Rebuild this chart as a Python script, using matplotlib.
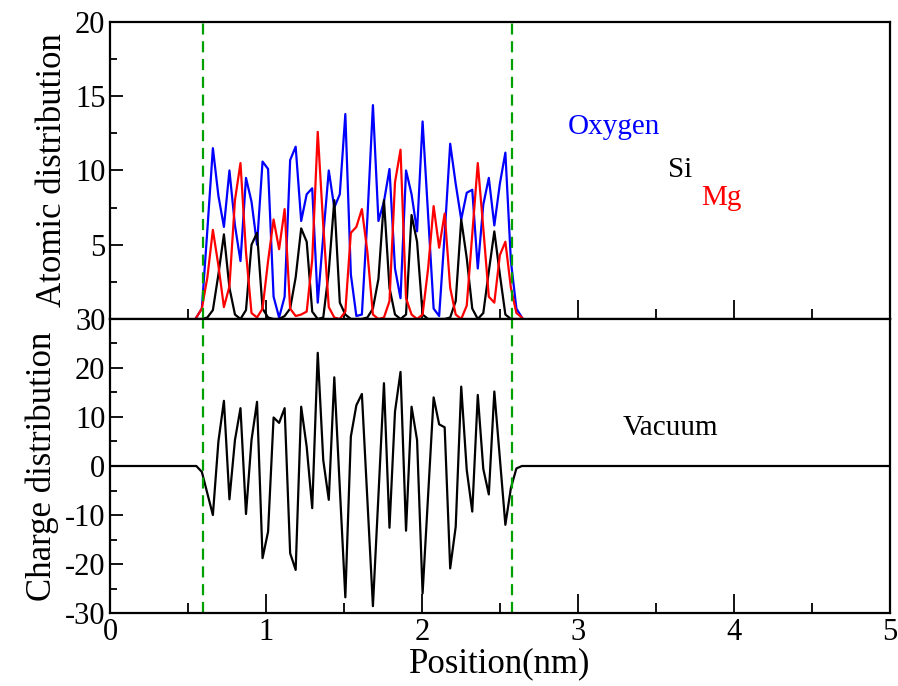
import numpy as np
import matplotlib
matplotlib.use("Agg")
import matplotlib.pyplot as plt
from matplotlib.ticker import MultipleLocator

# ==========================================
# DATA
# ==========================================

# sampling grid of the profiles (nm)
grid_start = 0.552
grid_step = 0.0354
n_points = 60

oxygen = [0.1, 0.7, 6.0, 11.5, 8.3, 6.2, 10.0, 6.3, 3.9, 9.5,
          7.9, 5.0, 10.6, 10.1, 1.5, 0.1, 1.5, 10.7, 11.6, 6.6,
          8.4, 8.8, 1.1, 5.6, 10.0, 7.5, 8.4, 13.8, 3.0, 0.2,
          0.3, 6.8, 14.4, 6.6, 7.9, 10.1, 3.4, 1.4, 10.0, 8.4,
          5.9, 13.3, 7.0, 0.7, 0.2, 5.7, 11.8, 9.1, 6.7, 8.5,
          8.7, 3.4, 7.7, 9.5, 6.3, 9.1, 11.2, 3.9, 0.7, 0.1]

magnesium = [0.1, 0.7, 2.8, 6.0, 3.6, 0.8, 2.2, 8.0, 10.5, 4.5,
             0.4, 0.1, 0.7, 3.9, 6.7, 4.7, 7.4, 0.7, 0.2, 0.3,
             0.5, 4.0, 12.6, 6.3, 0.8, 0.1, 0.0, 0.5, 5.8, 6.2,
             7.4, 4.5, 0.3, 0.0, 0.1, 1.2, 9.2, 11.4, 1.4, 0.3,
             0.0, 0.3, 3.4, 7.6, 4.8, 7.1, 2.1, 0.3, 0.0, 0.9,
             5.7, 10.5, 6.1, 1.5, 1.1, 4.3, 5.2, 2.1, 0.4, 0.1]

silicon = [0.0, 0.0, 0.1, 0.6, 3.0, 5.7, 2.1, 0.3, 0.0, 0.6,
           5.0, 5.8, 0.7, 0.1, 0.0, 0.0, 0.2, 0.7, 2.8, 6.1,
           5.2, 0.5, 0.0, 0.1, 3.2, 8.0, 1.1, 0.3, 0.0, 0.0,
           0.0, 0.1, 0.7, 2.7, 8.0, 2.1, 0.3, 0.0, 0.3, 7.0,
           5.2, 0.3, 0.0, 0.0, 0.0, 0.0, 0.1, 1.2, 6.7, 4.1,
           0.7, 0.0, 0.4, 3.2, 5.9, 3.0, 0.3, 0.0, 0.0, 0.0]

charge = [0.0, -1.2, -5.6, -10.0, 5.0, 13.3, -6.8, 5.3, 11.8, -9.8,
          5.3, 13.1, -18.8, -13.4, 9.9, 8.8, 11.8, -17.8, -21.2, 12.1,
          3.9, -8.6, 23.1, 1.2, -6.9, 18.1, -4.5, -26.8, 6.0, 12.4,
          14.7, -7.0, -28.6, -6.0, 16.9, -12.6, 11.1, 19.2, -13.2, 12.1,
          5.3, -26.0, -6.0, 14.0, 8.5, 7.9, -20.9, -12.4, 16.2, -0.8,
          -9.3, 14.5, -0.6, -5.8, 15.2, 1.6, -12.0, -4.5, -0.5, 0.0]

# vacuum on both sides of the slab
box_start = 0.0
box_end = 5.0

# slab surfaces (green dashed lines)
surfaces = [0.595, 2.575]

x = grid_start + grid_step * np.arange(n_points)
x_charge = np.concatenate([[box_start], x, [box_end]])
y_charge = np.concatenate([[0.0], charge, [0.0]])

# ==========================================
# FIGURE
# ==========================================

plt.rcParams["font.family"] = ["Liberation Serif", "DejaVu Serif"]
plt.rcParams["axes.linewidth"] = 1.6
plt.rcParams["axes.unicode_minus"] = False

fig = plt.figure(figsize=(8.98, 6.86), dpi=100)
ax1 = fig.add_axes([0.1228, 0.535, 0.8680, 0.433])
ax2 = fig.add_axes([0.1228, 0.1064, 0.8680, 0.4286], sharex=ax1)

# ==========================================
# TOP PANEL - ATOMIC DISTRIBUTION
# ==========================================

ax1.plot(x, oxygen, color="#0000ff", linewidth=1.6)
ax1.plot(x, silicon, color="black", linewidth=1.6)
ax1.plot(x, magnesium, color="#ff0000", linewidth=1.6)

for s in surfaces:
    ax1.axvline(s, color="#00a000", linestyle=(0, (5, 3)), linewidth=1.6)

ax1.text(2.936, 12.9, "Oxygen", color="#0000ff", fontsize=21, va="center")
ax1.text(3.577, 10.0, "Si", color="black", fontsize=21, va="center")
ax1.text(3.788, 8.15, "Mg", color="#ff0000", fontsize=21, va="center")

ax1.set_xlim(0, 5)
ax1.set_ylim(0, 20)
ax1.set_yticks([5, 10, 15, 20])
ax1.yaxis.set_minor_locator(MultipleLocator(2.5))
ax1.set_ylabel("Atomic distribution", fontsize=25)
ax1.tick_params(axis="x", labelbottom=False)

# ==========================================
# BOTTOM PANEL - CHARGE DISTRIBUTION
# ==========================================

ax2.plot(x_charge, y_charge, color="black", linewidth=1.6)

for s in surfaces:
    ax2.axvline(s, color="#00a000", linestyle=(0, (5, 3)), linewidth=1.6)

ax2.text(3.288, 7.8, "Vacuum", color="black", fontsize=21, va="center")

ax2.set_xlim(0, 5)
ax2.set_ylim(-30, 30)
ax2.yaxis.set_major_locator(MultipleLocator(10))
ax2.yaxis.set_minor_locator(MultipleLocator(5))
ax2.xaxis.set_major_locator(MultipleLocator(1))
ax2.xaxis.set_minor_locator(MultipleLocator(0.5))
ax2.set_xlabel("Position(nm)", fontsize=25, labelpad=0)
ax2.set_ylabel("Charge distribution", fontsize=25)

for ax in (ax1, ax2):
    ax.tick_params(axis="both", which="both", direction="in",
                   labelsize=22, width=1.3)
    ax.tick_params(axis="x", which="major", length=14)
    ax.tick_params(axis="x", which="minor", length=7)
    ax.tick_params(axis="y", which="major", length=9)
    ax.tick_params(axis="y", which="minor", length=5)

plt.savefig("out.png", dpi=100)
